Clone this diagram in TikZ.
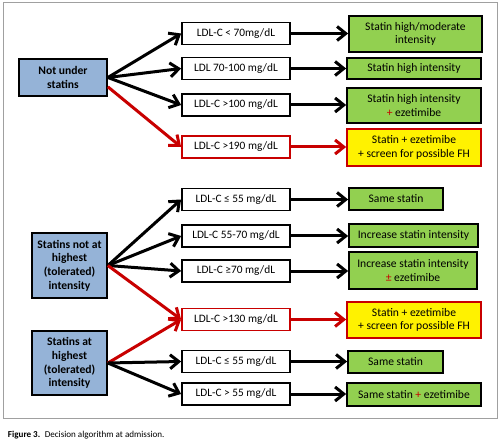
\documentclass[tikz,border=0pt]{standalone}
\usepackage{fontspec}
\setmainfont{Carlito}
\usetikzlibrary{arrows.meta}

\definecolor{boxblue}{RGB}{149,179,215}
\definecolor{boxgreen}{RGB}{146,208,80}
\definecolor{alertred}{RGB}{200,0,0}
\definecolor{framegray}{RGB}{160,160,160}

\tikzset{every picture/.style={line width=0.75pt}}
\tikzset{
  startbox/.style={draw, line width=1.3pt, fill=boxblue, align=center, inner sep=1pt,
    font=\bfseries\fontsize{8.7}{10.3}\selectfont},
  levelbox/.style={draw, line width=1.3pt, fill=white, inner sep=1pt,
    minimum width=81pt, minimum height=16.5pt, font=\fontsize{8.5}{10}\selectfont},
  alertbox/.style={levelbox, draw=alertred},
  treatbox/.style={draw, line width=1.3pt, fill=boxgreen, align=center, inner sep=1pt,
    font=\fontsize{8.7}{10.2}\selectfont},
  fhbox/.style={treatbox, fill=yellow, draw=alertred},
  flow/.style={line width=2.25pt, -{Straight Barb[length=6.5pt,width=10.5pt]}},
  redflow/.style={flow, draw=alertred},
}

\begin{document}
\begin{tikzpicture}[x=0.75pt,y=0.75pt,yscale=-1,xscale=1]
\useasboundingbox (0,0) rectangle (500,442);

%Frame
\draw [color=framegray] (3,3) rectangle (497,418);

%Shape: Rectangle
\node [startbox, minimum width=66pt, minimum height=27.75pt] (nus) at (63,77.5) {Not under\\statins};
\node [startbox, minimum width=56.25pt, minimum height=48.75pt] (snh) at (69.5,265.5) {Statins not at\\highest\\(tolerated)\\intensity};
\node [startbox, minimum width=56.25pt, minimum height=48pt] (sah) at (69.5,363) {Statins at\\highest\\(tolerated)\\intensity};

%Shape: Rectangle
\node [levelbox] (lt70) at (236,33.5) {LDL-C < 70mg/dL};
\node [levelbox] (l70) at (236,68.5) {LDL 70-100 mg/dL};
\node [levelbox] (g100) at (236,105) {LDL-C >100 mg/dL};
\node [alertbox] (g190) at (236,147) {LDL-C >190 mg/dL};
\node [levelbox] (le55a) at (236,199.5) {LDL-C ≤ 55 mg/dL};
\node [levelbox] (l5570) at (236,236) {LDL-C 55-70 mg/dL};
\node [levelbox] (ge70) at (236,271) {LDL-C ≥70 mg/dL};
\node [alertbox] (g130) at (236,319.5) {LDL-C >130 mg/dL};
\node [levelbox] (le55b) at (236,361.5) {LDL-C ≤ 55 mg/dL};
\node [levelbox] (g55) at (236,394) {LDL-C > 55 mg/dL};

%Shape: Rectangle
\node [treatbox, minimum width=99.75pt, minimum height=27pt] (hm) at (415.5,34) {Statin high/moderate\\intensity};
\node [treatbox, minimum width=100.5pt, minimum height=15.75pt] (hi) at (414,68.5) {Statin high intensity};
\node [treatbox, minimum width=100.5pt, minimum height=26.25pt] (hie) at (414,105.5) {Statin high intensity\\{\color{alertred}+} ezetimibe};
\node [fhbox, minimum width=100.5pt, minimum height=27.75pt] (fha) at (414,147.5) {Statin + ezetimibe\\+ screen for possible FH};
\node [treatbox, minimum width=70.5pt, minimum height=16.5pt] (samea) at (396,199) {Same statin};
\node [treatbox, minimum width=96.75pt, minimum height=17.25pt] (inc) at (413.5,235.5) {Increase statin intensity};
\node [treatbox, minimum width=96pt, minimum height=27.75pt] (ince) at (413,270.5) {Increase statin intensity\\{\color{alertred}±} ezetimibe};
\node [fhbox, minimum width=100.5pt, minimum height=27pt] (fhb) at (414,320) {Statin + ezetimibe\\+ screen for possible FH};
\node [treatbox, minimum width=71.25pt, minimum height=16.5pt] (sameb) at (395.5,362) {Same statin};
\node [treatbox, minimum width=100.5pt, minimum height=17.25pt] (samee) at (414,394.5) {Same statin {\color{alertred}+} ezetimibe};

%Straight Lines
\draw [flow] (nus.east) -- (lt70.west);
\draw [flow] (nus.east) -- (l70.west);
\draw [flow] (nus.east) -- (g100.west);
\draw [redflow] ([yshift=7pt]nus.east) -- (g190.west);

%Straight Lines
\draw [flow] (snh.east) -- (le55a.west);
\draw [flow] (snh.east) -- (l5570.west);
\draw [flow] (snh.east) -- (ge70.west);
\draw [redflow] (snh.east) -- (g130.west);
\draw [redflow] (sah.east) -- (g130.west);
\draw [flow] (sah.east) -- (le55b.west);
\draw [flow] (sah.east) -- (g55.west);

%Straight Lines
\draw [flow] (lt70.east) -- (lt70.east -| hm.west);
\draw [flow] (l70.east) -- (l70.east -| hi.west);
\draw [flow] (g100.east) -- (g100.east -| hie.west);
\draw [redflow] (g190.east) -- (g190.east -| fha.west);
\draw [flow] (le55a.east) -- (le55a.east -| samea.west);
\draw [flow] (l5570.east) -- (l5570.east -| inc.west);
\draw [flow] (ge70.east) -- (ge70.east -| ince.west);
\draw [redflow] (g130.east) -- (g130.east -| fhb.west);
\draw [flow] (le55b.east) -- (le55b.east -| sameb.west);
\draw [flow] (g55.east) -- (g55.east -| samee.west);

%Caption
\node [anchor=west, font=\fontsize{6.8}{8}\selectfont] (caption) at (3,435) {\textbf{Figure 3.}\enspace Decision algorithm at admission.};

\end{tikzpicture}
\end{document}
